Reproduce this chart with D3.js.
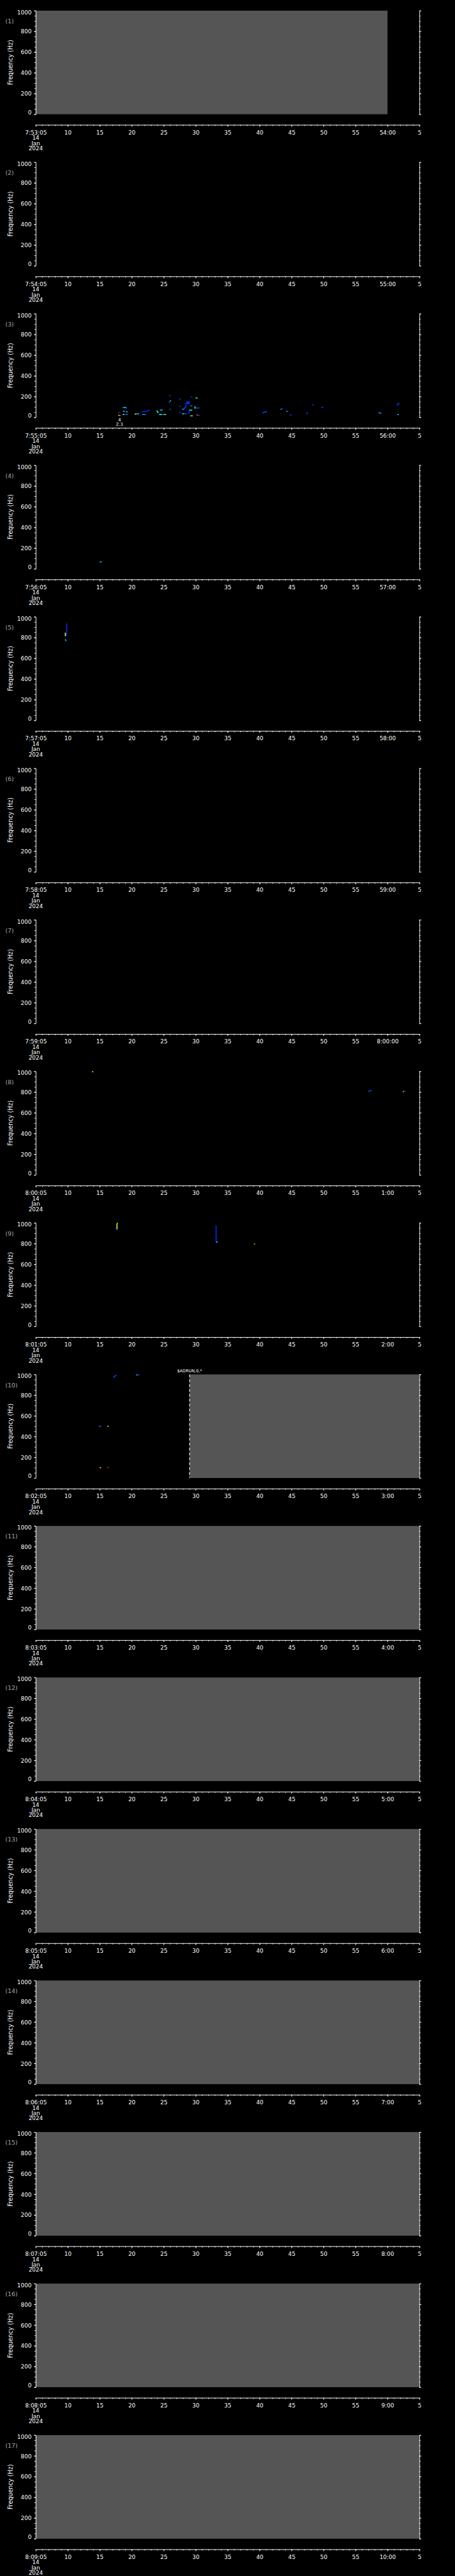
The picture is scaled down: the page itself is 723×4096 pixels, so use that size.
<!DOCTYPE html>
<html>
<head>
<meta charset="utf-8">
<script src="https://cdn.jsdelivr.net/npm/d3@7"></script>
<style>
  html, body { margin: 0; padding: 0; background: #000; }
  svg { display: block; background: #000; }
  text { font-family: "DejaVu Sans", sans-serif; fill: #fff; }
</style>
</head>
<body>
<svg id="chart"></svg>
<script>
// panel start times (each panel spans 60 s)
const panelStarts = [
  '2024-01-14T07:53:05Z', '2024-01-14T07:54:05Z', '2024-01-14T07:55:05Z',
  '2024-01-14T07:56:05Z', '2024-01-14T07:57:05Z', '2024-01-14T07:58:05Z',
  '2024-01-14T07:59:05Z', '2024-01-14T08:00:05Z', '2024-01-14T08:01:05Z',
  '2024-01-14T08:02:05Z', '2024-01-14T08:03:05Z', '2024-01-14T08:04:05Z',
  '2024-01-14T08:05:05Z', '2024-01-14T08:06:05Z', '2024-01-14T08:07:05Z',
  '2024-01-14T08:08:05Z', '2024-01-14T08:09:05Z'
];
// no-data (gray) spans, seconds from panel start
const grayFrom = [0, null, null, null, null, null, null, null, null, 24.05, 0, 0, 0, 0, 0, 0, 0];
const grayTo   = [55, null, null, null, null, null, null, null, null, 60, 60, 60, 60, 60, 60, 60, 60];

const yTicks = [0, 200, 400, 600, 800, 1000];
const xMajorSec = [0, 5, 10, 15, 20, 25, 30, 35, 40, 45, 50, 55, 60];

// traces: [level 0..1, [[sec, Hz], ...]]
const traces3 = [
  [0.05, [[12.9, 40], [13.2, 48]]],
  [0.7, [[12.9, 18], [13.1, 18]]],
  [0.95, [[13.1, 18], [13.3, 18]]],
  [0.3, [[13.6, 96], [14.2, 92]]],
  [0.35, [[13.66, 57], [13.9, 57]]],
  [0.05, [[13.9, 55], [14.2, 52]]],
  [0.65, [[14.2, 52], [14.35, 52]]],
  [0.7, [[13.6, 27], [13.8, 27]]],
  [0.08, [[13.8, 27], [14.2, 27]]],
  [0.35, [[14.2, 27], [14.35, 27]]],
  [0.7, [[15.46, 31], [15.7, 31]]],
  [0.3, [[15.7, 33], [16.16, 33]]],
  [0.2, [[16.64, 27], [17.2, 27]]],
  [0.05, [[16.64, 53], [17.2, 57], [17.5, 62], [17.82, 72]]],
  [0.4, [[18.87, 60], [19.0, 60], [19.05, 48], [19.21, 48]]],
  [0.3, [[19.42, 70], [19.84, 70]]],
  [0.55, [[19.28, 27], [19.7, 27]]],
  [0.1, [[19.7, 27], [20.0, 27]]],
  [0.5, [[20.0, 27], [20.39, 27]]],
  [0.05, [[20.88, 208], [21.16, 208]]],
  [0.15, [[20.81, 145], [21.0, 155]]],
  [0.45, [[21.0, 158], [21.16, 160]]],
  [0.08, [[20.88, 78], [21.16, 78]]],
  [0.05, [[22.41, 178], [22.69, 172]]],
  [0.05, [[22.41, 104], [22.69, 108]]],
  [0.05, [[22.41, 44], [22.69, 42]]],
  [0.3, [[22.9, 80], [23.2, 76]]],
  [0.05, [[23.25, 75], [23.29, 97], [23.47, 97], [23.47, 133], [23.64, 133], [23.64, 150],
          [23.82, 150], [23.82, 129], [23.94, 129], [23.99, 150], [24.1, 150]]],
  [0.05, [[23.8, 43], [24.0, 43], [24.0, 69]]],
  [0.4, [[24.0, 69], [24.47, 69]]],
  [0.2, [[24.17, 112], [24.47, 108]]],
  [0.05, [[24.24, 200], [24.47, 193]]],
  [0.5, [[24.9, 107], [24.9, 83]]],
  [0.1, [[25.03, 90], [25.63, 90]]],
  [0.45, [[24.98, 187], [25.33, 185]]],
  [0.4, [[22.9, 33], [23.2, 33]]],
  [0.1, [[23.2, 33], [23.59, 33]]],
  [0.55, [[24.17, 14], [24.57, 14]]],
  [0.95, [[25.1, 24], [25.4, 20]]],
  [0.05, [[25.4, 20], [25.68, 18]]],
  [0.1, [[35.44, 43], [35.8, 50], [36.15, 57]]],
  [0.7, [[38.26, 77], [38.35, 77]]],
  [0.1, [[38.35, 80], [38.65, 83]]],
  [0.5, [[39.18, 57], [39.3, 57]]],
  [0.1, [[39.3, 57], [39.46, 57]]],
  [0.1, [[39.74, 23], [39.99, 23]]],
  [0.1, [[42.29, 40], [42.58, 40]]],
  [0.05, [[43.19, 121], [43.47, 121]]],
  [0.1, [[44.67, 94], [44.95, 94]]],
  [0.2, [[53.59, 47], [54.05, 37]]],
  [0.1, [[56.48, 114], [56.83, 137]]],
  [0.35, [[56.53, 26], [56.76, 26]]]
];
const traces4 = [
  [0.1, [[9.9, 66], [10.1, 66]]],
  [0.5, [[10.1, 67], [10.3, 67]]]
];
const traces5 = [
  [0.05, [[4.83, 817], [4.83, 929], [4.95, 931]]],
  [0.7, [[4.6, 847], [4.62, 817], [4.72, 817]]],
  [0.35, [[4.65, 783], [4.72, 766]]],
  [0.05, [[4.72, 766], [4.8, 766]]]
];
const traces8 = [
  [0.7, [[8.8, 997], [9.0, 997]]],
  [0.1, [[52.0, 805], [52.5, 817]]],
  [0.7, [[57.4, 805], [57.55, 805]]],
  [0.05, [[57.55, 808], [57.8, 808]]]
];
const traces9 = [
  [0.7, [[12.7, 935], [12.7, 990], [12.8, 1000]]],
  [0.05, [[12.45, 955], [12.65, 937]]],
  [0.05, [[28.1, 970], [28.2, 970], [28.2, 815]]],
  [0.35, [[28.2, 815], [28.45, 815]]],
  [0.85, [[34.1, 795], [34.3, 797]]]
];
const traces10 = [
  [0.1, [[12.1, 970], [12.4, 985], [12.6, 995]]],
  [0.35, [[15.7, 995], [15.9, 995]]],
  [0.1, [[15.9, 995], [16.2, 995]]],
  [0.05, [[9.8, 502], [10.0, 502]]],
  [0.95, [[10.0, 498], [10.2, 498]]],
  [0.7, [[11.2, 500], [11.4, 500]]],
  [0.75, [[10.0, 100], [10.2, 100]]],
  [0.95, [[11.2, 100], [11.4, 100]]]
];
const panelTraces = {2: traces3, 3: traces4, 4: traces5, 7: traces8, 8: traces9, 9: traces10};

// event marker in panel 10 and note in panel 3
const markerPanel = 9, markerSec = 24.05, markerLabel = '$ADRUN,0,*';
const notePanel = 2, noteSec = 13.1, noteLines = ['4', '2.3'];

const W = 1024, H = 5802;
const svg = d3.select('#chart')
  .attr('width', 723).attr('height', 4096)
  .attr('viewBox', '0 0 ' + W + ' ' + H)
  .attr('preserveAspectRatio', 'none');

const panelH = H / panelStarts.length;
const plotLeft = 80.5, plotRight = 944, plotTop = 24, plotBottom = 257.3, axisY = 281.3;

const jet = d3.scaleLinear()
  .domain([0, 0.38, 0.58, 0.74, 1])
  .range(['#0010ff', '#00f0ff', '#50ff70', '#ffff00', '#ff0000']);

const fmtFull = d3.utcFormat('%-H:%M:%S'),
  fmtMin = d3.utcFormat('%-M:%S'),
  fmtSec = d3.utcFormat('%-S');

function styleAxis(a) {
  a.attr('font-size', null).attr('font-family', null).attr('color', '#fff');
  a.selectAll('line').attr('stroke-width', 1.4);
  a.select('.domain').attr('stroke-width', 1.4);
}

panelStarts.forEach(function (start, i) {
  const g = svg.append('g').attr('transform', 'translate(0,' + (i * panelH) + ')');
  const t0 = new Date(start);
  const sec = s => new Date(+t0 + s * 1000);
  const x = d3.scaleUtc().domain([t0, sec(60)]).range([plotLeft, plotRight]);
  const y = d3.scaleLinear().domain([0, 1000]).range([plotBottom, plotTop]);

  if (grayFrom[i] !== null) {
    g.append('rect')
      .attr('x', x(sec(grayFrom[i])))
      .attr('width', x(sec(grayTo[i])) - x(sec(grayFrom[i])))
      .attr('y', y(1000))
      .attr('height', y(0) - y(1000))
      .attr('fill', '#555555');
  }

  const line = d3.line().x(d => x(sec(d[0]))).y(d => y(d[1]));
  g.selectAll('.trace')
    .data(panelTraces[i] || [])
    .enter().append('path')
    .attr('class', 'trace')
    .attr('d', d => line(d[1]))
    .attr('fill', 'none')
    .attr('stroke', d => jet(d[0]))
    .attr('stroke-width', 2.2);

  // left axis
  const yl = g.append('g').attr('transform', 'translate(' + plotLeft + ',0)')
    .call(d3.axisLeft(y).tickValues(yTicks).tickFormat(d3.format('d'))
      .tickSize(4).tickSizeOuter(0).tickPadding(5.5));
  styleAxis(yl);
  yl.selectAll('text').attr('font-size', 12.7)
    .attr('dy', d => d === 1000 ? '0.62em' : d === 0 ? '0' : '0.36em');
  const ylm = g.append('g').attr('transform', 'translate(' + plotLeft + ',0)')
    .call(d3.axisLeft(y).tickValues(d3.range(0, 1001, 50)).tickSize(3).tickFormat(''));
  styleAxis(ylm);
  ylm.select('.domain').remove();

  // right axis
  const yr = g.append('g').attr('transform', 'translate(' + plotRight + ',0)')
    .call(d3.axisRight(y).tickValues(yTicks).tickSize(4).tickSizeOuter(0).tickFormat(''));
  styleAxis(yr);
  const yrm = g.append('g').attr('transform', 'translate(' + plotRight + ',0)')
    .call(d3.axisRight(y).tickValues(d3.range(0, 1001, 50)).tickSize(2.5).tickFormat(''));
  styleAxis(yrm);
  yrm.select('.domain').remove();

  // time axis
  const xa = g.append('g').attr('transform', 'translate(0,' + axisY + ')')
    .call(d3.axisBottom(x)
      .tickValues(xMajorSec.map(sec))
      .tickSize(4).tickSizeOuter(0).tickPadding(8.4)
      .tickFormat(function (d, k) {
        if (k === 0) return fmtFull(d);
        if (d.getUTCSeconds() === 0) return d.getUTCMinutes() === 0 ? fmtFull(d) : fmtMin(d);
        return fmtSec(d);
      }));
  styleAxis(xa);
  xa.selectAll('text').attr('font-size', 12.7);
  const xm = g.append('g').attr('transform', 'translate(0,' + axisY + ')')
    .call(d3.axisBottom(x).tickValues(d3.range(0, 61, 1).map(sec)).tickSize(2.5).tickFormat(''));
  styleAxis(xm);
  xm.select('.domain').remove();

  // date lines under the first label
  [d3.utcFormat('%-d')(t0), d3.utcFormat('%b')(t0), d3.utcFormat('%Y')(t0)].forEach(function (s, k) {
    g.append('text')
      .attr('x', x(t0)).attr('y', axisY + 33.7 + k * 11.8)
      .attr('text-anchor', 'middle').attr('font-size', 12.7)
      .text(s);
  });

  // y label
  g.append('text')
    .attr('transform', 'translate(28.5,' + ((plotTop + plotBottom) / 2) + ') rotate(-90)')
    .attr('text-anchor', 'middle')
    .attr('font-size', 14.5)
    .attr('textLength', 102)
    .attr('lengthAdjust', 'spacingAndGlyphs')
    .text('Frequency (Hz)');

  // panel number
  g.append('text')
    .attr('x', 12).attr('y', 52.5)
    .attr('font-size', 13.5)
    .style('fill', '#a8a8a8')
    .text('(' + (i + 1) + ')');

  if (i === markerPanel) {
    const mx = x(sec(markerSec));
    g.append('line')
      .attr('x1', mx).attr('x2', mx).attr('y1', y(1000)).attr('y2', y(0))
      .attr('stroke', '#fff').attr('stroke-width', 1.5)
      .attr('stroke-dasharray', '6,5');
    g.append('text')
      .attr('x', mx).attr('y', 19.5)
      .attr('text-anchor', 'middle').attr('font-size', 9.3)
      .text(markerLabel);
  }

  if (i === notePanel) {
    noteLines.forEach(function (s, k) {
      g.append('text')
        .attr('x', x(sec(noteSec))).attr('y', 266.7 + k * 10)
        .attr('text-anchor', 'middle').attr('font-size', 10)
        .text(s);
    });
  }
});
</script>
</body>
</html>
